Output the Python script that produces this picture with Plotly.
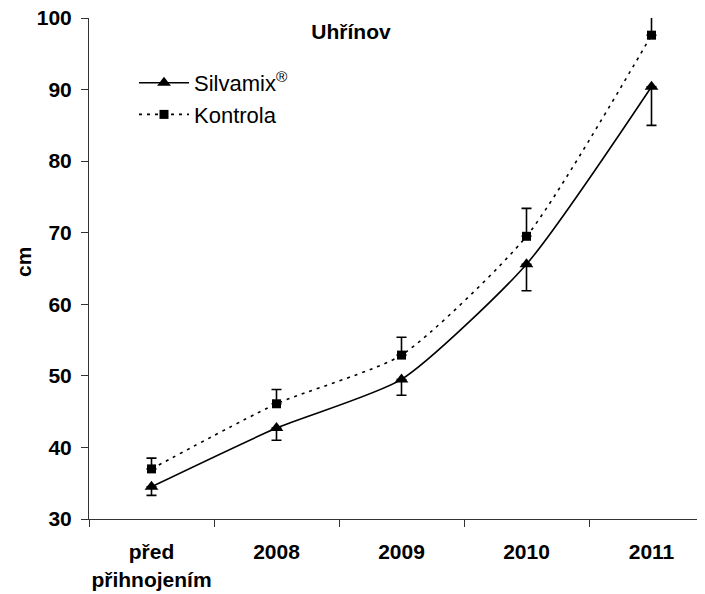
import plotly.graph_objects as go

categories = ["před<br>přihnojením", "2008", "2009", "2010", "2011"]
silvamix = [34.5, 42.7, 49.5, 65.6, 90.4]
silvamix_err_minus = [1.2, 1.7, 2.2, 3.7, 5.4]
kontrola = [37.0, 46.1, 52.9, 69.5, 97.6]
kontrola_err_plus = [1.5, 2.0, 2.5, 3.9, 6.0]
zeros = [0, 0, 0, 0, 0]
y_ticks = [30, 40, 50, 60, 70, 80, 90, 100]

FONT = "Liberation Sans, Arial, sans-serif"
W, H = 705, 594
OFF = 8  # page body margin
L, T = 89 - OFF, 18 - OFF
B = H - (519 - OFF)
R = OFF

fig = go.Figure()
fig.add_trace(go.Scatter(
    x=categories, y=silvamix, name="Silvamix<sup>®</sup>",
    mode="lines+markers",
    line=dict(color="black", width=1.6, shape="spline", smoothing=0.6),
    marker=dict(symbol="triangle-up", size=12, color="black"),
    error_y=dict(type="data", symmetric=False, array=zeros, arrayminus=silvamix_err_minus,
                 color="black", thickness=1.6, width=5),
))
fig.add_trace(go.Scatter(
    x=categories, y=kontrola, name="Kontrola",
    mode="lines+markers",
    line=dict(color="black", width=1.6, dash="3px,5px", shape="spline", smoothing=0.6),
    marker=dict(symbol="square", size=9, color="black"),
    error_y=dict(type="data", symmetric=False, array=kontrola_err_plus, arrayminus=zeros,
                 color="black", thickness=1.6, width=5),
))

x_end = (W - 89) / 125 - 0.5

fig.update_layout(
    width=W, height=H,
    margin=dict(l=L, r=R, t=T, b=B, autoexpand=False),
    plot_bgcolor="white", paper_bgcolor="white",
    font=dict(family=FONT, size=21, color="black"),
    title=dict(text="<b>Uhřínov</b>", x=(351 - OFF) / W, y=1 - (32 - OFF) / H,
               xref="container", yref="container",
               xanchor="center", yanchor="middle", font=dict(size=21)),
    showlegend=True,
    legend=dict(x=126 / W, y=1 - 54 / H, xref="container", yref="container",
                xanchor="left", yanchor="top", bgcolor="rgba(0,0,0,0)",
                font=dict(size=22), itemwidth=50, tracegroupgap=0),
    xaxis=dict(type="category", range=[-0.5, x_end], tickson="boundaries", tickangle=0,
               ticks="outside", ticklen=7, tickcolor="#333", tickwidth=1,
               showline=True, linecolor="#333", linewidth=1, showgrid=False,
               tickfont=dict(size=21), zeroline=False, ticklabelstandoff=14,
               ticklabeloverflow="allow"),
    yaxis=dict(range=[30, 100.0001], tickmode="array", tickvals=y_ticks,
               ticktext=[f"<b>{v}</b>" for v in y_ticks],
               ticks="outside", ticklen=7, tickcolor="#333",
               tickwidth=1, showline=True, linecolor="#333", linewidth=1, showgrid=False,
               zeroline=False, tickfont=dict(size=21), ticklabelstandoff=5,
               ticklabeloverflow="allow"),
    annotations=[dict(text="<b>cm</b>", xref="paper", yref="paper",
                      x=-(89 - 23) / (W - 89), y=(519 - 262) / (519 - 18),
                      xanchor="center", yanchor="middle", textangle=-90,
                      showarrow=False, font=dict(size=21))],
)
fig.update_xaxes(tickprefix="<b>", ticksuffix="</b>")

fig.write_html("out.html")
